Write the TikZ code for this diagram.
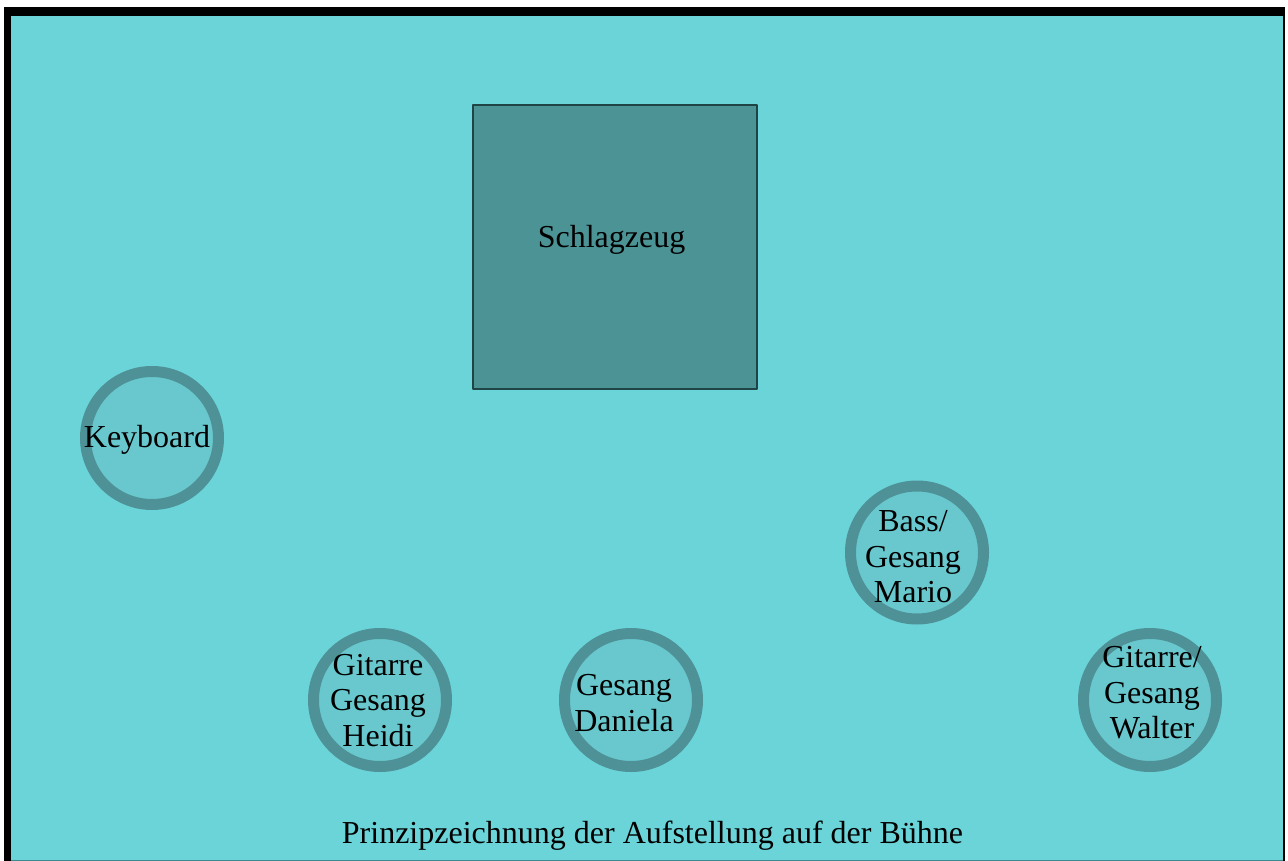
\documentclass[tikz,border=0pt]{standalone}
\usepackage{fontspec}
\setmainfont{Liberation Serif}
\definecolor{buehne}{HTML}{6AD4D9}
\definecolor{ring}{HTML}{4E9196}
\definecolor{platz}{HTML}{68C8CE}
\definecolor{drums}{HTML}{4C9396}
\definecolor{drumrand}{HTML}{1E4446}
\definecolor{kante}{HTML}{3A8A8E}
\tikzset{
  platz/.style={draw=ring,fill=platz,line width=11pt},
  schrift/.style={inner sep=0pt,align=center,font=\fontsize{32}{35.5}\selectfont}
}
\begin{document}
\begin{tikzpicture}[x=1pt,y=-1pt,line join=round]
	\useasboundingbox (0,0) rectangle (1288,861);
	\fill[white] (0,0) rectangle (1288,861);
	% Buehne mit Rahmen
	\fill[black] (4,7) rectangle (1285,861);
	\fill[kante] (11,16) rectangle (1283,861);
	\fill[buehne] (11,16) rectangle (1283,859.5);
	% Schlagzeug
	\filldraw[fill=drums,draw=drumrand,line width=2pt] (473,105) rectangle (757,389);
	\node[schrift] (schlagzeug) at (611.5,240) {Schlagzeug};
	% Plaetze der Musiker
	\draw[platz] (152,438) circle (66.5);
	\draw[platz] (917,552.5) circle (66.5);
	\draw[platz] (380,700) circle (66.5);
	\draw[platz] (631,700) circle (66.5);
	\draw[platz] (1150,700) circle (66.5);
	\node[schrift] (keyboard) at (147,440) {Keyboard};
	\node[schrift] (mario) at (913,557) {Bass/\\Gesang\\Mario};
	\node[schrift] (heidi) at (378,700.5) {Gitarre\\Gesang\\Heidi};
	\node[schrift] (daniela) at (624,703) {Gesang\\Daniela};
	\node[schrift] (walter) at (1152,693) {Gitarre/\\Gesang\\Walter};
	\node[schrift] (titel) at (652.5,836) {Prinzipzeichnung der Aufstellung auf der Bühne};
\end{tikzpicture}
\end{document}
